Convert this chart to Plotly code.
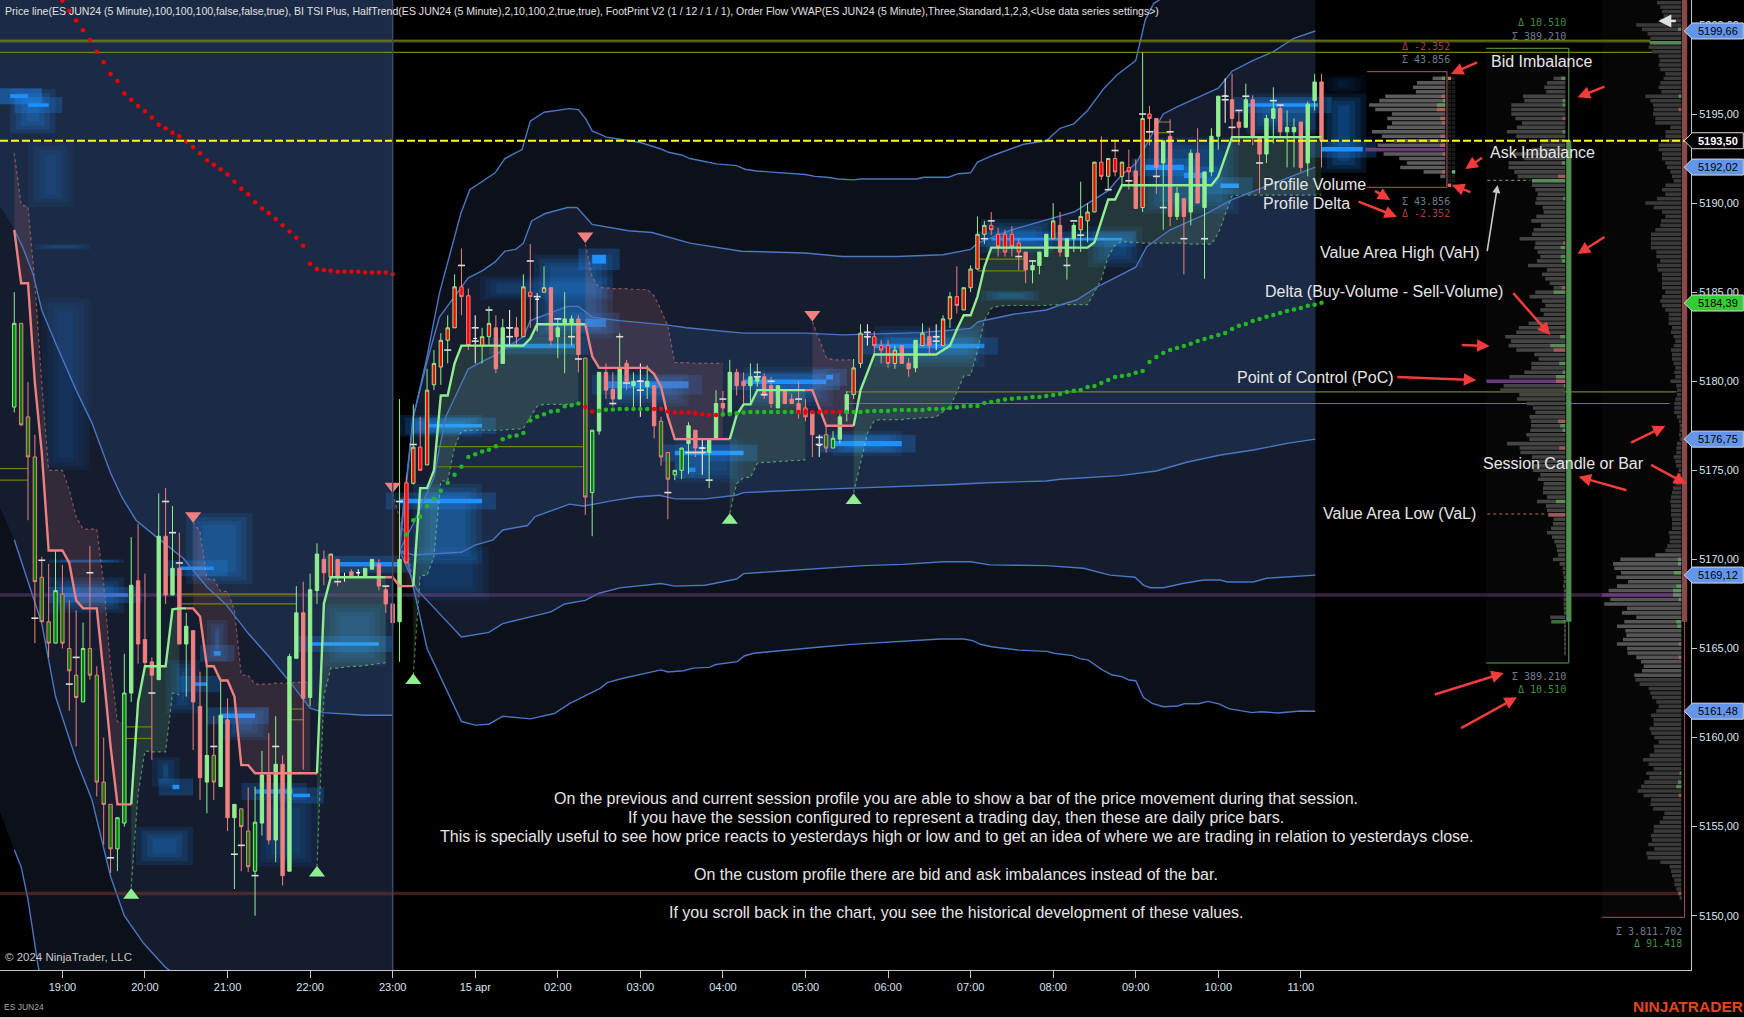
"""ES JUN24 5 minute chart with session volume profiles, rebuilt in plotly."""
import plotly.graph_objects as go

# ---------------------------------------------------------------------------
# Data (bar number 0 = 19:00, prices in index points)
# ---------------------------------------------------------------------------
first_bar = -7
bar_kind = ("qgggggqggg" "qggggqqGRR" "RGRGRGRRGg" "GRGggqGRGR" "GGRGGRrRWR"
            "WGGRRRGprp" "rrrrrppWrr" "RGWRrpWrRG" "GGRgqGRRGR" "GWGRggqqGR"
            "WGGRGRRGGR" "RGRRRpRWgq" "GGrrWppprR" "RGrRWrrprr" "rrpppppRGG"
            "GrRGGrrrpr" "prpRrpRGRG" "RGRGGGWRRG" "RRGGRGGRGG" "R")
bar_top = [5183.25,5183.25,5178,5175.75,5169,5166.5,5168.25,5168.05,5165,5163.5,
           5165,5165,5163.5,5157.5,5156.25,5155.5,5162.5,5168.55,5168.8,5165.5,
           5164.25,5171.3,5171.3,5169.5,5169.5,5166.25,5166,5161.75,5159,5159,
           5161.25,5161,5156.25,5156,5154.75,5155.25,5157.9,5157.9,5158.5,5158.5,
           5164.55,5167,5167,5168.3,5170.3,5170,5170.3,5170,5169,5169.3,
           5169.25,5169.5,5170,5169.75,5168.3,5167.5,5170,5174.3,5176.3,5176.3,
           5179.5,5181,5182.3,5183,5185.3,5185.3,5184.8,5182.4,5182.5,5183.25,
           5183,5183,5183,5183,5185.3,5185,5184.6,5185.25,5185.25,5183,
           5183.5,5183.5,5183.5,5181.3,5177.25,5180.5,5180.5,5179.55,5180.7,5181,
           5180,5180,5180,5179.75,5177.75,5176,5175,5176.25,5177.5,5177.25,
           5176.25,5176.75,5178.75,5178.75,5180.5,5180.5,5180,5180.25,5180.25,5180.25,
           5179.75,5179.75,5179.5,5179,5178.75,5178.5,5178.25,5176.4,5177,5176.8,
           5178,5179.25,5180.75,5182.7,5182.5,5182.5,5182,5182,5181.75,5182,
           5181,5182.3,5182.7,5182.5,5182.5,5183.5,5184.75,5184.75,5185.25,5186.3,
           5188.25,5188.75,5188.75,5188.25,5188.25,5188.25,5187.75,5187.25,5186.5,5187.25,
           5188.25,5189,5188.75,5188,5188.75,5189.25,5189.5,5192.3,5192.3,5192.5,
           5192.5,5192.3,5192,5191.8,5194.75,5195,5194.75,5193.5,5193.75,5190.55,
           5190.25,5192.8,5192.8,5191.75,5193.75,5196,5196,5195.8,5194.55,5195.8,
           5195.8,5193.7,5194.75,5195.3,5195.3,5194.25,5194.25,5194.55,5195.55,5196.8,
           5196.8]
bar_bot = [5178.55,5177.55,5175.75,5168.75,5166.5,5165.3,5165.3,5165.3,5163.75,5162.25,
           5162,5163.5,5157.5,5156.25,5153.75,5153.75,5155.2,5162.5,5165.25,5164.2,
           5163.5,5163.25,5168,5168,5165.25,5165.25,5162,5157.75,5157.5,5157.5,
           5157.25,5155.5,5155.5,5155,5152.75,5152.5,5155.2,5154.25,5154.25,5152.25,
           5152.5,5164.45,5162.2,5162.25,5168.25,5169.25,5169,5169,5169,5169,
           5169.25,5169,5169.45,5168.5,5167.5,5166.45,5166.5,5169.8,5174.27,5175,
           5175.3,5179.8,5180.8,5182.3,5183,5184.75,5182,5182.4,5182,5182.5,
           5180.7,5181,5183,5182.5,5182.5,5184.75,5184.6,5185,5182.3,5182.5,
           5183.2,5183.2,5181.5,5173.5,5173.75,5177.2,5179.5,5179,5179,5180,
           5179.75,5180,5179.7,5177.5,5175.75,5174.5,5174.75,5175,5176.5,5176.25,
           5176.25,5176,5176.75,5178.5,5178.2,5179.75,5179.75,5179.75,5180,5179.2,
           5178.75,5178.5,5178.75,5178.75,5178.2,5178,5177,5176.4,5176.25,5176.25,
           5176.75,5178.2,5179.25,5181,5182.5,5182,5181.75,5181,5181,5181,
           5180.7,5180.75,5182,5182,5182.5,5182,5183.5,5184.25,5184,5185.25,
           5186.3,5188.25,5188.5,5187.55,5187.25,5187.55,5187.25,5186.25,5186.25,5186.5,
           5187,5188,5187.25,5187,5188,5188.5,5189,5189.5,5191.5,5191.5,
           5191.75,5191.5,5191.75,5189.7,5189.75,5194.75,5192,5192.25,5189.25,5189.25,
           5189.25,5189.5,5190,5189.75,5191.75,5193.75,5196,5194.75,5194.25,5194.25,
           5193.75,5192.75,5192.75,5194.75,5194,5194,5194,5192,5192.25,5195.75,
           5193.5]
bar_high = [5185,5183.25,5179.95,5177,5170.15,5169.75,5170.5,5169.7,5167.7,5167.15,
            5166.45,5170.75,5164,5160,5156.25,5155.5,5164.7,5171.25,5172,5169.2,
            5164.5,5173.7,5174,5173,5171.5,5167,5166,5163.7,5164,5161.2,
            5163.25,5162.2,5156.25,5156,5157.2,5157.25,5159.25,5160.25,5161.2,5159,
            5164.7,5168.5,5168.75,5169.2,5170.9,5170.5,5170.3,5170,5169.25,5169.45,
            5169.45,5169.5,5170,5170,5168.5,5167.5,5179,5174.7,5178.7,5178,
            5180.7,5181.75,5182.7,5183.7,5186,5187.45,5185.2,5183.7,5183,5184.2,
            5183.7,5183.5,5184,5183.6,5186,5187.7,5184.95,5186.45,5185.25,5183.5,
            5185,5183.7,5183.7,5181.3,5177.25,5180.5,5181,5180.5,5182.7,5181.2,
            5180.5,5181,5180.9,5179.75,5178,5176,5175,5176.25,5177.7,5177.25,
            5176.75,5176.75,5179.5,5179.45,5181.2,5180.7,5180.5,5181,5181,5180.45,
            5180.25,5179.75,5179.5,5179.3,5180,5179,5178.25,5177,5177.45,5177.2,
            5178.2,5179.45,5181.25,5183.2,5183.2,5182.8,5182.3,5182.3,5182,5182,
            5181.3,5182.3,5183.25,5183,5183.2,5183.7,5185,5186.45,5185.25,5186.5,
            5189.25,5189,5189.5,5188.6,5188.5,5188.7,5188,5187.25,5186.8,5187.25,
            5188.25,5190,5189.5,5188,5188.9,5191.2,5190,5192.3,5193.75,5192.5,
            5193.55,5192.3,5193,5192.45,5198.45,5195.45,5194.75,5193.5,5194.7,5190.9,
            5190.25,5193,5194.2,5191.75,5194.2,5196,5197,5197.25,5195.2,5196.7,
            5196.05,5193.7,5194.95,5196.5,5195.5,5195.2,5194.75,5194.55,5195.7,5197.25,
            5197.25]
bar_low = [5178.25,5177.5,5172.2,5165.3,5166.5,5164.5,5165.3,5165,5161.5,5159.5,
           5162,5163.25,5156.7,5154,5152.4,5152.5,5155,5162,5164.15,5164,
           5158.75,5163.25,5167.5,5168,5165.25,5162.3,5159.3,5156.5,5155.75,5156.5,
           5157.25,5154.75,5151.5,5152.5,5152.45,5150,5154.5,5154,5153,5151.7,
           5152.5,5164.45,5158.2,5161.75,5167.5,5168.55,5169,5168.5,5168.75,5169,
           5169,5169,5169.45,5168.25,5167,5166.2,5164.25,5169.8,5174.2,5175,
           5175.3,5179.5,5179.8,5181,5183,5183.7,5181.75,5181,5181,5182,
           5180.45,5181,5182,5182,5182.5,5183,5182.8,5185,5182,5181.3,
           5180.45,5182,5180.5,5172.5,5171.3,5177,5179,5178.6,5179,5179.5,
           5178.5,5178,5179,5176.8,5175.25,5172.25,5174.45,5174.5,5174.8,5175.75,
           5174.75,5174,5176.75,5178,5178.2,5179.2,5178.75,5178.75,5179.7,5179,
           5178.5,5178.5,5178.75,5178.75,5177.9,5177.75,5175.75,5175.75,5176,5176.25,
           5176.5,5177.75,5179,5180.75,5182,5181.5,5181,5180.75,5180.7,5181,
           5180.25,5180.5,5182,5181.5,5181.75,5182,5183,5183.8,5184,5185,
           5186.25,5187.7,5188.2,5187,5187,5187,5186.25,5185.5,5185.5,5186,
           5187,5188,5187,5185.7,5187.25,5187.25,5187.8,5189.5,5191.3,5190.75,
           5191.5,5191,5190.75,5189.7,5189.5,5193.25,5190.5,5188.5,5188.7,5189.05,
           5186,5188.75,5190,5185.75,5191.5,5193,5194.5,5193.75,5193.25,5194.25,
           5193.25,5190.55,5192.25,5193.35,5193.75,5192,5192,5191.75,5191.5,5195.2,
           5192]

# small white footprint marks next to the bars
mark_bar = [-3,-4,4,2,1,7,15,16,17,13,22,25,26,28,31,40,47,49,51,58,56,60,60,62,65,65,68,69,72,74,75,80,81,82,
            84,84,88,91,92,93,93,94,96,101,101,102,103,107,110,110,117,117,127,127,134,135,139,141,146,147,
            148,152,153,155,157,159,158,160,161,163,166,169,169,170,171,172,174,176,177]
mark_price = [5169.95,5166.7,5169.25,5164.5,5163,5153.25,5173.25,5171.5,5169.8,5162.5,5159.5,5153.45,5153.95,
              5152.25,5159.5,5168.75,5168.5,5173.25,5176.45,5186.5,5181.75,5183,5182.25,5184,5183,5182.5,
              5186.75,5184.75,5183.5,5182.5,5181.25,5178.75,5182.5,5179.9,5180,5179.5,5173.75,5176,5176,
              5176.25,5176,5174.45,5179,5180.5,5180.25,5179.25,5180,5179,5176.85,5176.45,5182.75,5182.5,
              5182.5,5182.25,5188,5189,5187,5186.75,5186.5,5189,5188.2,5190.75,5192.95,5191.25,5195,5191.5,
              5194,5189.75,5194,5188,5188,5196,5195.8,5194.25,5195.2,5196,5192.25,5195.75,5195.5]

# HalfTrend line, one value per bar, and the bars where it changes colour
halftrend = [5188.5,5185.5,5185.5,5179.9,5176,5170.5,5170.5,5170.5,5169.8,5167.7,
             5167.25,5167.25,5167.25,5163.5,5159.5,5156.25,5156.25,5156.25,5162,5164,
             5164,5164,5164,5167.2,5167.25,5167.25,5167.25,5166.8,5164,5164,
             5163.2,5163.2,5162.3,5158.45,5158.45,5158,5158,5158,5158,5158,
             5158,5158,5158,5158,5158,5167.5,5169,5169,5169,5169,
             5169,5169,5169,5169,5169,5169,5168.5,5168.5,5168.5,5174,
             5174,5175,5179.2,5179.2,5181,5182,5182,5182,5182,5182,
             5182,5182,5182,5182,5182,5182.4,5183.2,5183.2,5183.2,5183.2,
             5183.2,5183.2,5183.2,5183.2,5181.4,5180.75,5180.75,5180.75,5180.75,5180.75,
             5180.75,5180.75,5180.75,5180.4,5179.7,5178,5176.75,5176.75,5176.75,5176.75,
             5176.75,5176.75,5176.75,5176.75,5176.75,5178.1,5178.7,5178.7,5179.5,5179.5,
             5179.5,5179.5,5179.5,5179.5,5179.5,5179.5,5179.5,5178.5,5177.5,5177.5,
             5177.5,5177.5,5177.5,5179.5,5180.5,5181.5,5181.5,5181.5,5181.5,5181.5,
             5181.5,5181.5,5181.5,5181.5,5181.5,5181.75,5182,5182.9,5183.7,5183.7,
             5184.75,5186.4,5187.5,5187.5,5187.5,5187.5,5187.5,5187.5,5187.5,5187.5,
             5187.5,5187.5,5187.5,5187.5,5187.5,5187.5,5187.5,5187.8,5189,5190.2,
             5190.2,5191,5191,5191,5191,5191,5191,5191,5191,5191,
             5191,5191,5191,5191,5191,5191.5,5192.6,5193.7,5193.7,5193.7,
             5193.7,5193.7,5193.7,5193.7,5193.7,5193.7,5193.7,5193.7,5193.7,5193.7,
             5193.7]
halftrend_flips = [-7, 10, 18, 37, 47, 51, 76, 97, 108, 115, 183]

# the dotted far side of each HalfTrend ribbon
ribbon_dn_1 = [5192.8,5189.9,5189.8,5185.5,5179.9,5175,5175,5175,5173.9,5172.4,5171.7,5171.7,5171.7,5168.65,5164,5160.9,5160.8]
ribbon_up_1 = [5151.6,5156.85,5159.25,5159.2,5159.2,5159.2,5162.5,5162.4]
ribbon_dn_2 = [5172.1,5171.55,5168.9,5168.9,5168.2,5168.2,5167.15,5163.5,5163.5,5163,5163,5163,5163.05,5163.05,5163.05,5163.1,5163.1,5163.1]
ribbon_up_2 = [5152.75,5162.3,5163.9,5163.9,5163.95,5164,5164,5164.05,5164.1,5164.15,5164.2]
ribbon_dn_3 = [5173.7,5172.3,5171,5168.5]
ribbon_up_3 = [5163.5,5169.1,5169.1,5170.15,5174.4,5174.4,5176.3,5177.2,5177.25,5177.25,5177.25,5177.25,5177.25,5177.25,
               5177.3,5177.3,5177.35,5178,5178.6,5178.7,5178.7,5178.7,5178.7,5178.7,5178.7]
ribbon_dn_4 = [5187.7,5185.85,5185.25,5185.25,5185.2,5185.2,5185.2,5185.15,5185.15,5185.15,5184.8,5184,5183.1,5181.05,
               5181.05,5181.05,5181,5181,5181,5181,5181]
ribbon_up_4 = [5172.6,5174.25,5174.6,5174.6,5175.4,5175.45,5175.45,5175.5,5175.5,5175.55,5175.55,5175.6]
ribbon_dn_5 = [5183.35,5182.3,5181.35,5181.2,5181.2,5181.2,5181.2]
ribbon_up_5 = [5173.75,5175.4,5177.05,5177.8,5177.85,5177.85,5177.85,5177.85,5177.9,5177.9,5177.95,5177.95,5178,5178.3,
               5178.57,5179.4,5180.29,5180.35,5181.7,5183.4,5184.1,5184.2,5184.25,5184.25,5184.25,5184.25,5184.25,
               5184.25,5184.25,5184.3,5184.3,5184.3,5184.3,5184.3,5184.3,5185,5185.7,5187,5187.65,5187.85,5187.8,
               5187.8,5187.75,5187.75,5187.75,5187.75,5187.75,5187.75,5187.75,5187.7,5187.7,5187.7,5187.7,5188.3,
               5189.4,5190.4,5190.45,5190.45,5190.45,5190.45,5190.45,5190.45,5190.45,5190.45,5190.45,5190.45,5190.45,
               5190.45,5190.45]
ribbons = [(-7, ribbon_dn_1, "dn"), (10, ribbon_up_1, "up"), (19, ribbon_dn_2, "dn"),
           (37, ribbon_up_2, "up"), (48, ribbon_dn_3, "dn"), (51, ribbon_up_3, "up"),
           (76, ribbon_dn_4, "dn"), (97, ribbon_up_4, "up"), (109, ribbon_dn_5, "dn"),
           (115, ribbon_up_5, "up")]

sell_signal_bar = [19, 48, 76, 109]
sell_signal_price = [5172.45, 5174.1, 5188.15, 5183.75]
buy_signal_bar = [10, 37, 51, 97, 115]
buy_signal_price = [5151.15, 5152.4, 5163.2, 5172.2, 5173.3]

# previous session VWAP dots (all red) and current session VWAP dots
prior_dots = [5201.35,5200.8,5200.25,5199.7,5199.15,5198.5,5197.9,5197.25,5196.85,5196.15,
              5195.8,5195.45,5195.15,5194.8,5194.4,5194.2,5193.95,5193.75,5193.45,5193.15,
              5192.8,5192.4,5192.15,5191.9,5191.6,5191.2,5190.8,5190.5,5190.05,5189.7,
              5189.45,5189.1,5188.75,5188.4,5188.05,5187.6,5186.6,5186.3,5186.25,5186.2,
              5186.15,5186.15,5186.15,5186.15,5186.1,5186.1,5186.1,5186.1,5186]
vwap_first_bar = 50
vwap_dots = [5171.4,5172.2,5172.4,5173,5173.4,5173.85,5174.3,5174.75,5175.2,5175.75,
             5175.9,5176.05,5176.15,5176.35,5176.75,5176.9,5176.95,5177.1,5177.8,5178,
             5178.15,5178.3,5178.35,5178.6,5178.65,5178.75,5178.55,5178.3,5178.35,5178.4,
             5178.42,5178.44,5178.44,5178.44,5178.44,5178.44,5178.44,5178.44,5178.3,5178.25,
             5178.25,5178.25,5178.2,5178.15,5178.1,5178.1,5178.15,5178.15,5178.2,5178.25,
             5178.27,5178.27,5178.27,5178.27,5178.27,5178.27,5178.27,5178.27,5178.27,5178.27,
             5178.27,5178.27,5178.27,5178.28,5178.28,5178.27,5178.27,5178.31,5178.33,5178.33,
             5178.33,5178.39,5178.39,5178.39,5178.39,5178.39,5178.44,5178.44,5178.44,5178.5,
             5178.54,5178.59,5178.61,5178.61,5178.78,5178.83,5178.91,5178.97,5179.02,5179.06,
             5179.06,5179.12,5179.12,5179.17,5179.23,5179.28,5179.4,5179.47,5179.51,5179.68,
             5179.73,5179.9,5180.07,5180.24,5180.29,5180.35,5180.48,5180.57,5181.08,5181.36,
             5181.59,5181.75,5181.87,5181.98,5182.11,5182.26,5182.37,5182.48,5182.6,5182.71,
             5182.93,5183.12,5183.21,5183.38,5183.49,5183.62,5183.72,5183.83,5183.94,5184.02,
             5184.11,5184.24,5184.3,5184.41]
vwap_red_bars = [76, 77, 86, 87, 88, 89, 90, 91, 92, 93, 94, 95, 107, 108, 109, 110, 111, 112, 113]

# current session VWAP bands
upper3_x = [49,51,52.9,54.8,57.9,59.2,62.9,64.3,66.8,68,70,73.7,75,76.1,77,79.1,80.8,84,86.9,88.1,90,91.2,93.2,95.1,98,
            99.2,100.9,104.8,108,109.4,111.1,112.8,115,116,124.2,125.2,128.8,130.2,132,133,135.4,139.7,143,145,147,
            149,151.4,153.3,156,157.4,158.6,170,182.1]
upper3_p = [5171,5178,5181.2,5184.95,5189.4,5190.75,5191.7,5192.5,5193,5194.6,5195.1,5195.3,5195.25,5194.7,5194.05,
            5193.7,5193.6,5193.4,5193.05,5192.85,5192.7,5192.5,5192.35,5192.2,5192.1,5191.9,5191.8,5191.7,5191.6,
            5191.5,5191.45,5191.35,5191.3,5191.35,5191.35,5191.45,5191.45,5191.65,5191.7,5192.3,5192.7,5193.3,5193.5,
            5194.2,5194.45,5195.2,5196.45,5197.2,5198,5200.3,5201.2,5204,5207]
upper2_x = [49,51,53.2,54.8,59,61,62.9,64.3,65.9,67,68.2,70.1,73.4,74.8,77,82.3,85.7,87.9,91.2,98.7,107.9,113.4,121.2,
            128,132,133,138,147,152,154,156,158,160,162,168,170,173,176,179,182.1]
upper2_p = [5170.5,5178,5181.4,5183.6,5185.8,5186.2,5186.7,5187.3,5187.4,5187.75,5189,5189.4,5189.75,5189.75,5188.8,
            5188.45,5188.35,5188.1,5187.75,5187.3,5187.2,5187,5187,5187.1,5187.4,5187.75,5188.5,5189.5,5190.7,5191.6,
            5192.2,5193.6,5195,5195.4,5196.45,5197.4,5198,5198.5,5199.25,5199.66]
upper1_x = [49,51,54,55.7,59,63,67,68,73.4,75,77,81,88,90.7,99,108,113.4,121,124.7,129.5,132,133.1,138.2,143,145,147.4,
            150.4,156,157.6,161,166,170,175.4,182.1]
upper1_p = [5170.5,5172,5174.6,5178,5180.7,5181.5,5182.5,5183.4,5184.2,5184.2,5183.6,5183.4,5183.15,5183,5182.7,5182.7,
            5182.6,5182.7,5182.73,5182.88,5182.97,5183.34,5183.76,5184,5184.28,5184.56,5185.3,5186.4,5187.55,5188.5,
            5189.35,5190.2,5191,5192.02]
lower1_x = [49,51,58,60,62.6,64,67.6,68.7,73.7,75.7,77.3,80,83.4,86.8,89,93.4,97.9,99,108,117.4,123.7,129.5,134.4,139.2,
            143,145,148.9,153.7,159,163.4,168.3,173.1,178,182.1]
lower1_p = [5170.5,5170.25,5170.4,5170.8,5171.1,5171.65,5171.9,5172.4,5173.1,5173,5173.1,5173.3,5173.5,5173.6,5173.4,
            5173.4,5173.6,5173.75,5173.9,5174.03,5174.08,5174.2,5174.3,5174.34,5174.4,5174.5,5174.6,5174.7,5174.96,
            5175.45,5175.86,5176.14,5176.51,5176.75]
lower2_x = [49,51.5,53,58,62,64,71,73,76,78,81,87,89,93.4,98,99,104.6,110,116.4,122.2,128,132,134.8,143,148.4,152.3,
            155.9,157.1,158.1,160,163,165.9,168.3,169.3,173.1,175,178,182.1]
lower2_p = [5170.5,5168.3,5167.7,5165.65,5165.9,5166.4,5167.05,5167.5,5167.7,5168.1,5168.4,5168.65,5168.5,5168.55,
            5168.9,5169.2,5169.35,5169.48,5169.65,5169.72,5169.87,5169.87,5169.69,5169.65,5169.5,5169.12,5169,
            5168.56,5168.41,5168.41,5168.66,5168.84,5168.84,5168.73,5168.73,5168.94,5169.03,5169.12]
lower3_x = [49,50,53,58,60,62,64,68,71.5,73.7,78.15,79.2,81.2,87,88,90.3,91.7,94,95,98.1,99.1,100.5,103.9,107.2,110.6,
            114.7,118.8,124.2,127.6,131,132.3,133.3,135,139,143.1,144.1,146.8,147.9,149.1,151.2,152.6,154,155,156,
            157.1,158.4,160,162.1,163.1,165.1,166.5,168.2,169.5,172.9,174.2,176.6,180,182.1]
lower3_p = [5170.5,5170.2,5165,5160.9,5160.7,5160.75,5161.2,5161.05,5161.35,5161.9,5162.76,5163.08,5163.3,5163.8,
            5163.68,5163.75,5163.9,5163.94,5164.1,5164.26,5164.58,5164.73,5164.86,5164.99,5165.1,5165.23,5165.33,
            5165.44,5165.53,5165.53,5165.44,5165.25,5165.1,5164.91,5164.84,5164.73,5164.6,5164.43,5164.35,5163.79,
            5163.51,5163.42,5163.23,5163.19,5162.26,5161.92,5161.73,5161.77,5161.9,5161.9,5162.03,5161.88,5161.62,
            5161.4,5161.45,5161.38,5161.49,5161.48]

# previous session bands (only the lower ones are on screen)
prev_a_x = [-9.1,-7,-5.8,-4.3,-3,-1,2,4.3,7,8.7,10.7,13.7,17.6,21,23.7,27,30,33,36,38,44,48]
prev_a_p = [5189.8,5188.5,5187.55,5186.05,5184,5182.15,5179.5,5177.65,5174.85,5173.45,5172.2,5171.25,5170.05,
            5168.45,5167.5,5165.85,5164.55,5163.15,5161.65,5161.4,5161.25,5161.25]
prev_b_x = [-9.1,-7,-3,-1,2,4.3,7,9,11.8,15,17]
prev_b_p = [5172.85,5171.1,5166.4,5162.3,5158.75,5156.5,5152.2,5150,5148.45,5147.1,5146.5]
prev_c_x = [-9.1,-7,-6,-5,-3.5,-3]
prev_c_p = [5155.85,5153.7,5152.75,5150.9,5147.1,5146.5]

# volume heat blocks behind the bars: first bar, last bar, price range, intensity
heat_x0 = [-5,-4,-3,-7.6,-2,0,18,21,15,23,13,10.7,28,38,50,51,60.7,68.5,79,89,99,112,118,133.5,133.5,149,157,172,183,183,
           -2,-7.6,-7.6,-5,0,17,19,22,23,16,28,33.5,36.2,40,49,53,49,77,64,76,79,89,91,99,111,112,118,135,157.4,163,168.3,172,183]
heat_x1 = [1.5,4,4,-1,9,9.5,27.6,24,20,30,17,19,37,47,62,61,80,80,91,99,112,122,134,144,142,157,171,183,189.5,189.5,
           9,-5,-5,-2,9.5,22,21,23,28,17,33.5,36,46,49,61,61,61,79,74.5,79,91,99,92,111,112,122,134,154,163,166,171,182.5,189]
heat_p0 = [5189.8,5187.4,5175,5193.9,5167,5167.9,5168.6,5164.3,5161.35,5159.85,5157.25,5152.85,5152.75,5164,5167.7,5169.75,
           5184.55,5182.4,5178.6,5174.3,5178.6,5175.8,5180.8,5187.2,5184.5,5186.4,5189.4,5193.9,5191.7,5196.15,
           5169.8,5195.9,5195.9,5195.4,5167.9,5169.4,5162.9,5164.6,5161.1,5157.1,5156.85,5156.65,5165.15,5169.6,5173.15,5177.4,
           5176.9,5186.6,5181.85,5183.05,5179.6,5175.85,5174.9,5179.85,5180.1,5176.35,5181.85,5187.9,5191.85,5191.4,5190.85,5195.4,5192.9]
heat_p1 = [5193.4,5187.7,5184.65,5196.4,5169,5168.1,5172.6,5166.6,5164.35,5161.7,5158.9,5155,5156.7,5167.5,5170.7,5174.25,
           5185.9,5187.1,5180.4,5176.9,5180.8,5177.2,5183.1,5189.1,5185.1,5188.7,5193.7,5196.15,5196.15,5197.2,
           5170,5196.1,5196.1,5195.6,5168.1,5169.6,5163.1,5164.85,5161.35,5157.35,5157.1,5156.85,5165.35,5169.85,5173.4,5177.6,
           5178.1,5187.1,5182.1,5183.5,5180,5176.1,5175.15,5180.1,5180.35,5176.65,5182.1,5188.05,5192.15,5191.7,5191.1,5195.6,5193.15]
heat_level = [.18,.2,.15,.35,.3,.3,.3,.3,.25,.3,.25,.3,.2,.22,.18,.3,.2,.3,.25,.2,.25,.25,.25,.3,.25,.25,.25,.3,.35,.12,
              .35,1,1,1,1,.9,.9,.9,1,1,.8,1,1,.9,1,1,.4,1,.8,.7,.75,1,.9,1,1,1,.85,1,1,1,1,1,1]

# current session profile (rows from 5197.00 down, 0.25 apart)
session_top = 5197.0
session_vol = [35,55,63,57,127,123,162,162,162,150,130,145,175,147,75,75,100,155,125,170,
               170,153,143,100,100,90,83,87,90,68,65,87,102,73,95,100,137,90,93,83,
               75,85,112,55,70,60,47,35,90,107,70,60,75,65,87,110,140,147,180,
               163,170,147,93,80,102,102,123,168,237,185,195,138,145,115,97,90,107,103,103,
               105,117,108,175,137,135,100,83,95,97,75,82,65,67,67,55,85,58,55,52,
               35,37,43,55,40,33,27,25,22,37,17,8,7,5,5,7,5,5,5,5,
               5,3,45,3,3,3,3,3,3,3,3]
session_delta_rows = [0,5,6,9,12,19,22,23,27,37,38,40,41,47,48,58,60,61,64,66,67,68,69,77,78,79,83,95,98,122]
session_delta_vals = [12,8,8,-8,8,10,-22,100,6,-6,14,14,10,-10,35,15,45,-35,18,8,28,-28,5,-22,15,8,-18,28,-50,42]
session_poc_row = 68

# previous session profile (rows from 5201.25 down)
prev_top = 5201.25
prev_left = [770,780,785,790,780,708,725,742,750,750,745,755,775,778,775,780,795,790,780,775,
             783,735,750,758,760,758,765,765,810,795,795,800,775,775,785,785,795,800,810,815,
             820,795,785,795,770,735,760,785,795,782,780,765,752,752,752,752,768,768,780,770,
             772,785,785,785,785,795,785,780,785,795,805,805,805,815,812,820,
             825,820,812,815,815,820,825,822,825,810,828,830,830,825,822,822,822,830,836,838,
             838,836,838,830,828,828,820,825,828,835,835,835,825,818,815,812,810,812,812,812,
             815,815,815,805,808,808,800,795,765,660,638,642,662,648,683,650,625,605,630,612,
             680,665,708,672,650,675,678,668,650,680,682,708,722,730,725,702,705,
             718,745,750,755,768,775,768,752,760,760,748,753,762,775,760,762,748,728,745,760,
             738,747,732,722,712,730,752,750,758,792,788,778,760,760,752,755,744,762,738,742,
             780,808,812,815,822,822,828,832,838]
prev_vol = [843 - v for v in prev_left]
prev_delta_rows = [6,9,21,24,125,126,128,131,132,133,134,139,140,144,147,173,175,176,178,200]
prev_delta_vals = [10,95,8,-8,10,10,22,15,25,25,8,15,12,-8,-8,5,10,15,-8,-8]
prev_poc_row = 133

# custom range profile (rows from 5197.00 down)
custom_top = 5197.0
custom_vol = [38,85,97,88,180,198,228,210,160,174,160,175,220,190,155,203,239,185,138,115,135,65,15]
custom_delta_rows = [0,4,5,6,7,9,10,13,15,17,21]
custom_delta_vals = [10,-12,8,25,-25,-15,-10,-15,-15,-8,-10]
custom_poc_row = 16
imbalance_rows = list(range(25))
imbalance_bid_rows = [0, 24]
imbalance_ask_rows = [21]

# session candles: high, body top, body bottom, low
session_bar = (5198.7, 5193.5, 5166.5, 5164.2)
prev_bar = (5201.5, 5201.5, 5166.5, 5149.9)

# horizontal levels
level_p = [5199.1, 5198.46, 5179.4, 5178.75]
level_x0 = [-9.1, -9.1, 114, 114]
level_x1 = [230.8, 231.5, 234.6, 233.6]
short_p = [5176.33,5175.2,5186.85,5186.2,5160.6,5159.95,5168.05,5167.5,5161.6,5161,5175.1,5174.45,5194.55,5193.95]
short_x0 = [54.5,54.5,133,133,9.3,9.3,17.3,17.3,33,33,-9.1,-9.1,159,159]
short_x1 = [75.7,75.7,140,140,13,13,34,34,35,35,-5,-5,161,161]
poc_purple_p = 5168.0
poc_brown_p = 5151.25
last_price = 5193.5

tick_prices = [5150,5155,5160,5165,5170,5175,5180,5185,5190,5195,5200]
time_bars = [0,12,24,36,48,60,72,84,96,108,120,132,144,156,168,180]
time_labels = ["19:00","20:00","21:00","22:00","23:00","15 apr","02:00","03:00","04:00","05:00",
               "06:00","07:00","08:00","09:00","10:00","11:00"]

# price flags on the axis: price, fill, text colour
flag_prices = [5199.66, 5192.02, 5184.39, 5176.75, 5169.12, 5161.48, 5193.50]
flag_fills = ["#6495ED", "#6495ED", "#32CD32", "#6495ED", "#6495ED", "#6495ED", "#000000"]
flag_text = ["#000000", "#000000", "#000000", "#000000", "#000000", "#000000", "#ffffff"]

# ---------------------------------------------------------------------------
# Page geometry
# ---------------------------------------------------------------------------
W, H = 1744, 1017
PLOT_R, PLOT_B = 1690.7, 970.0
BAR_PX = 6.879
X0_PX = 62.4
PX_PER_PT = 17.816
Y_195 = 114.0


def bar_at(px):
    return (px - X0_PX) / BAR_PX


def price_at(py):
    return 5195 - (py - Y_195) / PX_PER_PT


def xp(px):
    return px / PLOT_R


def yp(py):
    return 1 - py / PLOT_B


X_RANGE = [bar_at(0), bar_at(PLOT_R)]
Y_RANGE = [price_at(PLOT_B), price_at(0)]
VOL_UNIT = 1 / (3 * BAR_PX)  # one profile unit is a third of a pixel

FONT = "Liberation Sans"
MONO = "DejaVu Sans Mono"
LG, SALMON = "#90EE90", "#F08080"
BAND = "#4a76c4"

fig = go.Figure()
shapes, notes = [], []


def note(px, py, text, size=16, color="#e6e6e6", anchor="left", family=FONT, bold=False):
    notes.append(dict(xref="paper", yref="paper", x=xp(px), y=yp(py), text=f"<b>{text}</b>" if bold else text,
                      showarrow=False, xanchor=anchor, yanchor="middle", borderpad=0, borderwidth=0,
                      font=dict(family=family, size=size, color=color)))


def arrow(tail, head, color="#f23c3c", width=2.5):
    notes.append(dict(xref="paper", yref="paper", x=xp(head[0]), y=yp(head[1]), text="",
                      ax=tail[0] - head[0], ay=tail[1] - head[1], showarrow=True,
                      arrowhead=2, arrowsize=1, arrowwidth=width, arrowcolor=color))


def pline(x0, y0, x1, y1, color, width=1, dash="solid", layer="above"):
    shapes.append(dict(type="line", xref="paper", yref="paper", x0=xp(x0), y0=yp(y0), x1=xp(x1), y1=yp(y1),
                       line=dict(color=color, width=width, dash=dash), layer=layer))


def polygon(xs, ys, color, axes="1"):
    fig.add_trace(go.Scatter(x=xs, y=ys, mode="lines", fill="toself", fillcolor=color,
                             line=dict(width=0), hoverinfo="skip",
                             xaxis="x" if axes == "1" else "x" + axes,
                             yaxis="y" if axes == "1" else "y" + axes))


# ---------------------------------------------------------------------------
# Layer 1: band fills
# ---------------------------------------------------------------------------
TOP = Y_RANGE[1] + 1
BOTTOM = Y_RANGE[0] - 1
polygon(prev_a_x + [48, -9.1], prev_a_p + [TOP, TOP], "#1c2b45")
polygon(prev_a_x + [48, 17] + prev_b_x[::-1], prev_a_p + [BOTTOM, BOTTOM] + prev_b_p[::-1], "#141c2e")
polygon(prev_b_x + [17, -3] + prev_c_x[::-1], prev_b_p + [BOTTOM, BOTTOM] + prev_c_p[::-1], "#0c1019")

polygon(upper3_x + lower3_x[::-1], upper3_p + lower3_p[::-1], "#0c1019")
polygon(upper2_x + lower2_x[::-1], upper2_p + lower2_p[::-1], "#141c2e")
polygon(upper1_x + lower1_x[::-1], upper1_p + lower1_p[::-1], "#1c2b45")

# ---------------------------------------------------------------------------
# Layer 2: heat blocks, ribbons, band lines, levels
# ---------------------------------------------------------------------------
# bright rows get a faint glow, the broad blocks get soft stepped edges
heat_rects = []
for x0, x1, p0, p1, lv in zip(heat_x0, heat_x1, heat_p0, heat_p1, heat_level):
    if lv >= 0.7:
        heat_rects.append((x0 - 2, x1 + 2, p0 - 0.35, p1 + 0.35, lv * 0.24))
        heat_rects.append((x0, x1, p0, p1, lv))
    else:
        for k in range(4):
            dx = min(k * 0.8, (x1 - x0) * 0.2 * k)
            dp = min(k * 0.22, (p1 - p0) * 0.1 * k)
            heat_rects.append((x0 + dx, x1 - dx, p0 + dp, p1 - dp, lv * 0.4))
heat_rects.sort(key=lambda r: r[4])
fig.add_trace(go.Bar(orientation="h",
                     y=[(r[2] + r[3]) / 2 for r in heat_rects],
                     x=[r[1] - r[0] for r in heat_rects],
                     base=[r[0] for r in heat_rects],
                     width=[r[3] - r[2] for r in heat_rects],
                     marker=dict(color=[r[4] for r in heat_rects], cmin=0, cmax=1, line=dict(width=0),
                                 colorscale=[[0, "rgba(30,144,255,0)"], [1, "rgba(30,144,255,1)"]]),
                     xaxis="x2", yaxis="y2", hoverinfo="skip"))

for start, vals, side in ribbons:
    xs = list(range(start, start + len(vals)))
    line_vals = [halftrend[i - first_bar] for i in xs]
    fill = "rgba(144,238,144,0.13)" if side == "up" else "rgba(240,128,128,0.14)"
    polygon(xs + xs[::-1], vals + line_vals[::-1], fill, axes="2")
    fig.add_trace(go.Scatter(x=xs, y=vals, mode="lines", hoverinfo="skip", xaxis="x2", yaxis="y2",
                             line=dict(width=1.2, dash="dot",
                                       color="rgba(144,238,144,0.5)" if side == "up" else "rgba(240,128,128,0.5)")))

for xs, ps in [(upper3_x, upper3_p), (upper2_x, upper2_p), (upper1_x, upper1_p),
               (lower1_x, lower1_p), (lower2_x, lower2_p), (lower3_x, lower3_p),
               (prev_a_x[1:], prev_a_p[1:]), (prev_b_x[1:], prev_b_p[1:]), (prev_c_x[1:], prev_c_p[1:])]:
    fig.add_trace(go.Scatter(x=xs, y=ps, mode="lines", line=dict(color=BAND, width=1.4),
                             hoverinfo="skip", xaxis="x2", yaxis="y2"))

# purple and brown session lines, olive levels
for p, color in [(poc_purple_p, "rgba(125,70,145,0.45)"), (poc_brown_p, "rgba(115,55,55,0.55)")]:
    fig.add_trace(go.Scatter(x=[X_RANGE[0], bar_at(1681)], y=[p, p], mode="lines",
                             line=dict(color=color, width=3.5), hoverinfo="skip", xaxis="x2", yaxis="y2"))
fig.add_trace(go.Scatter(x=[level_x0[0], level_x1[0]], y=[level_p[0], level_p[0]], mode="lines",
                         line=dict(color="rgba(120,150,70,0.28)", width=4), hoverinfo="skip", xaxis="x2", yaxis="y2"))
for x0, x1, p in list(zip(level_x0, level_x1, level_p)) + list(zip(short_x0, short_x1, short_p)):
    fig.add_trace(go.Scatter(x=[x0, x1], y=[p, p], mode="lines", line=dict(color="#77801a", width=1.2),
                             hoverinfo="skip", xaxis="x2", yaxis="y2"))


# ---------------------------------------------------------------------------
# Layer 3: profiles, candles, lines, dots
# ---------------------------------------------------------------------------
def add_profile(top, vols, anchor_px, gray, poc_row, delta_rows, delta_vals, alpha=0.55, light_rows=()):
    anchor = bar_at(anchor_px)
    rows = [top - 0.25 * i for i in range(len(vols))]
    colors = ["#6a3a7a" if i == poc_row else ("#555555" if i in light_rows else gray) for i in range(len(vols))]
    fig.add_trace(go.Bar(orientation="h", y=rows, x=[-v * VOL_UNIT for v in vols], base=anchor, width=0.2,
                         marker=dict(color=colors, line=dict(width=0)), xaxis="x3", yaxis="y3", hoverinfo="skip"))
    d_colors = [f"rgba(110,200,110,{alpha})" if v > 0 else f"rgba(235,110,110,{alpha})" for v in delta_vals]
    fig.add_trace(go.Bar(orientation="h", y=[rows[i] for i in delta_rows], x=[-abs(v) * VOL_UNIT for v in delta_vals],
                         base=anchor, width=0.2, marker=dict(color=d_colors, line=dict(width=0)),
                         xaxis="x3", yaxis="y3", hoverinfo="skip"))


add_profile(prev_top, prev_vol, 1681, "#3a3a3a", prev_poc_row, prev_delta_rows, prev_delta_vals,
            light_rows=range(124, 152))
add_profile(session_top, session_vol, 1565, "#444444", session_poc_row, session_delta_rows, session_delta_vals)
add_profile(custom_top, custom_vol, 1445, "#5c5c5c", custom_poc_row, custom_delta_rows, custom_delta_vals)

# imbalance squares next to the custom profile
imb_rows = [custom_top - 0.25 * i for i in imbalance_rows]
for px, bid in [(1449.3, True), (1453.3, False)]:
    colors = []
    for i in imbalance_rows:
        if bid and i in imbalance_bid_rows:
            colors.append("#d86a6a")
        elif not bid and i in imbalance_ask_rows:
            colors.append("#5fc05f")
        else:
            colors.append("#1c1c1c")
    fig.add_trace(go.Scatter(x=[bar_at(px)] * len(imb_rows), y=imb_rows, mode="markers", hoverinfo="skip",
                             marker=dict(symbol="square", size=3.4, color=colors), xaxis="x3", yaxis="y3"))

# candles, one trace per body/outline combination
kinds = {"G": (LG, LG), "R": (SALMON, SALMON), "r": ("#ff0000", LG), "g": ("#008000", SALMON),
         "q": ("#008000", LG), "p": ("#ff0000", SALMON), "W": ("#ffffff", "#ffffff")}
for kind, (fill, outline) in kinds.items():
    idx = [i for i, k in enumerate(bar_kind) if k == kind]
    up = kind in "GrqW"
    fig.add_trace(go.Candlestick(
        x=[first_bar + i for i in idx],
        open=[bar_bot[i] if up else bar_top[i] for i in idx],
        close=[bar_top[i] if up else bar_bot[i] for i in idx],
        high=[bar_high[i] for i in idx], low=[bar_low[i] for i in idx],
        increasing=dict(fillcolor=fill, line=dict(color=outline, width=1)),
        decreasing=dict(fillcolor=fill, line=dict(color=outline, width=1)),
        whiskerwidth=0, hoverinfo="skip", xaxis="x3", yaxis="y3", showlegend=False))

fig.add_trace(go.Scatter(x=mark_bar, y=mark_price, mode="markers", hoverinfo="skip", xaxis="x3", yaxis="y3",
                         marker=dict(symbol="line-ew", size=5, line=dict(color="#dcdcdc", width=1.6))))

# HalfTrend line
for n, (a, b) in enumerate(zip(halftrend_flips[:-1], halftrend_flips[1:])):
    xs = list(range(a, b + 1))
    fig.add_trace(go.Scatter(x=xs, y=[halftrend[i - first_bar] for i in xs], mode="lines", hoverinfo="skip",
                             line=dict(color=SALMON if n % 2 == 0 else LG, width=2.4),
                             xaxis="x3", yaxis="y3"))

fig.add_trace(go.Scatter(x=sell_signal_bar, y=sell_signal_price, mode="markers", hoverinfo="skip",
                         marker=dict(symbol="triangle-down", size=14, color=SALMON, line=dict(width=0)),
                         xaxis="x3", yaxis="y3"))
fig.add_trace(go.Scatter(x=buy_signal_bar, y=buy_signal_price, mode="markers", hoverinfo="skip",
                         marker=dict(symbol="triangle-up", size=14, color=LG, line=dict(width=0)),
                         xaxis="x3", yaxis="y3"))

# VWAP dots
fig.add_trace(go.Scatter(x=list(range(len(prior_dots))), y=prior_dots, mode="markers", hoverinfo="skip",
                         marker=dict(size=4.5, color="#f00000", line=dict(width=0)), xaxis="x3", yaxis="y3"))
vwap_bars = list(range(vwap_first_bar, vwap_first_bar + len(vwap_dots)))
fig.add_trace(go.Scatter(x=vwap_bars, y=vwap_dots, mode="markers", hoverinfo="skip",
                         marker=dict(size=4.5, line=dict(width=0),
                                     color=["#f00000" if b in vwap_red_bars else "#22b822" for b in vwap_bars]),
                         xaxis="x3", yaxis="y3"))

# session candles
for px, (hi, top, bot, lo), body, wick in [(1568.5, session_bar, "#4f8f4f", "#5fa05f"),
                                           (1684.3, prev_bar, "#8a4a4a", "#a05a5a")]:
    x = bar_at(px)
    fig.add_trace(go.Scatter(x=[x, x], y=[hi, lo], mode="lines", line=dict(color=wick, width=1),
                             hoverinfo="skip", xaxis="x3", yaxis="y3"))
    fig.add_trace(go.Scatter(x=[x, x], y=[top, bot], mode="lines", line=dict(color=body, width=5.2),
                             hoverinfo="skip", xaxis="x3", yaxis="y3"))

# price line
fig.add_trace(go.Scatter(x=[X_RANGE[0], bar_at(1685)], y=[last_price, last_price], mode="lines", hoverinfo="skip",
                         line=dict(color="#ffff00", width=2, dash="8px,3px"), xaxis="x3", yaxis="y3"))

# ---------------------------------------------------------------------------
# Frames, texts, arrows
# ---------------------------------------------------------------------------
shapes.append(dict(type="rect", xref="paper", yref="paper", x0=xp(1486), x1=xp(1566), y0=yp(48), y1=yp(663),
                   fillcolor="rgba(255,255,255,0.025)", line=dict(width=0), layer="below"))
shapes.append(dict(type="rect", xref="paper", yref="paper", x0=xp(1601.7), x1=xp(1682), y0=yp(0), y1=yp(917),
                   fillcolor="rgba(255,255,255,0.025)", line=dict(width=0), layer="below"))
pline(392.6, 0, 392.6, PLOT_B, "#3d4a63", 1.5)
pline(1486, 48.3, 1568.5, 48.3, "#5fa05f")
pline(1486, 663, 1568.5, 663, "#5fa05f")
pline(1601.7, 917.3, 1684.3, 917.3, "#a05a5a")
pline(1366.7, 71.7, 1446.7, 71.7, "#a86060")
pline(1366.7, 187.3, 1446.7, 187.3, "#a86060")
pline(1446.7, 71.7, 1446.7, 187.3, "#a86060")
pline(1487, 180.3, 1530, 180.3, "#6fb56f", 1, "dot")
pline(1487, 514, 1547, 514, "#c06a6a", 1, "dot")

for p, fill, txt in zip(flag_prices, flag_fills, flag_text):
    y = Y_195 + (5195 - p) * PX_PER_PT
    path = (f"M {xp(1684)} {yp(y)} L {xp(1692)} {yp(y - 8)} L {xp(1743)} {yp(y - 8)} "
            f"L {xp(1743)} {yp(y + 8)} L {xp(1692)} {yp(y + 8)} Z")
    shapes.append(dict(type="path", xref="paper", yref="paper", path=path, fillcolor=fill,
                       line=dict(color="#d8d8d8", width=1), layer="above"))
    note(1737.5, y, f"{p:.2f}".replace(".", ","), size=11, color=txt, anchor="right", bold=fill == "#000000")

note(5, 11.5, "Price line(ES JUN24 (5 Minute),100,100,100,false,false,true), BI TSI Plus, "
              "HalfTrend(ES JUN24 (5 Minute),2,10,100,2,true,true), FootPrint V2 (1 / 12 / 1 / 1), "
              "Order Flow VWAP(ES JUN24 (5 Minute),Three,Standard,1,2,3,&lt;Use data series settings&gt;)",
     size=10.55, color="#e0e0e0")
note(4.5, 957, "© 2024 NinjaTrader, LLC", size=11.5, color="#c8c8c8")
note(4, 1007, "ES JUN24", size=8.5, color="#a8a8a8")
note(1743, 1006.5, "NINJATRADER", size=15.5, color="#e8431f", anchor="right", bold=True)

for y, text in [(798, "On the previous and current session profile you are able to show a bar of the price movement during that session."),
                (817, "If you have the session configured to represent a trading day, then these are daily price bars."),
                (836, "This is specially useful to see how price reacts to yesterdays high or low and to get an idea of where we are trading in relation to yesterdays close."),
                (874, "On the custom profile there are bid and ask imbalances instead of the bar."),
                (912, "If you scroll back in the chart, you see the historical development of these values.")]:
    note(956, y, text, anchor="center")

note(1491, 62, "Bid Imbalance")
note(1490, 152, "Ask Imbalance")
note(1263, 184.5, "Profile Volume")
note(1263, 203.5, "Profile Delta")
note(1320, 252.5, "Value Area High (VaH)")
note(1265, 291.5, "Delta (Buy-Volume - Sell-Volume)")
note(1236.5, 377.5, "Point of Control (PoC)")
note(1482.5, 463, "Session Candle or Bar")
note(1323, 513, "Value Area Low (VaL)")

note(1566, 22.6, "Δ 10.510", size=10, color="#3f8f3f", anchor="right", family=MONO)
note(1566, 36.6, "Σ 389.210", size=10, color="#6d7f8f", anchor="right", family=MONO)
note(1450, 46.5, "Δ -2.352", size=10, color="#a84040", anchor="right", family=MONO)
note(1450, 59.5, "Σ 43.856", size=10, color="#6d7f8f", anchor="right", family=MONO)
note(1450, 201.5, "Σ 43.856", size=10, color="#6d7f8f", anchor="right", family=MONO)
note(1450, 213.5, "Δ -2.352", size=10, color="#a84040", anchor="right", family=MONO)
note(1566, 676.5, "Σ 389.210", size=10, color="#6d7f8f", anchor="right", family=MONO)
note(1566, 689.5, "Δ 10.510", size=10, color="#3f8f3f", anchor="right", family=MONO)
note(1682, 931.5, "Σ 3.811.702", size=10, color="#6d7f8f", anchor="right", family=MONO)
note(1682, 943.5, "Δ 91.418", size=10, color="#3f8f3f", anchor="right", family=MONO)

for tail, head in [((1478.3, 61.7), (1450.7, 74)), ((1605.7, 86), (1577.3, 97.3)), ((1483.3, 156.7), (1465, 169)),
                   ((1471.7, 192.7), (1451.7, 185)), ((1605.7, 236), (1577.3, 254)), ((1511.7, 291.7), (1550, 335)),
                   ((1460, 345), (1489.3, 346)), ((1395.6, 377), (1476, 380)), ((1629.3, 443.3), (1665, 426)),
                   ((1649.3, 464), (1686, 484)), ((1627.7, 490.7), (1578.3, 476.7)), ((1373.3, 190), (1390, 200)),
                   ((1356.7, 201), (1396.7, 216.7)), ((1433, 695), (1503.5, 673)), ((1459.3, 729), (1516.7, 697.3))]:
    arrow(tail, head)
arrow((1486.7, 252.7), (1497.3, 185), color="#c8c8c8", width=1.6)
arrow((1677, 21), (1658, 21), color="#e0e0e0", width=2.6)

# ---------------------------------------------------------------------------
# Axes and layout
# ---------------------------------------------------------------------------
hidden = dict(visible=False, showgrid=False, zeroline=False, fixedrange=True)
fig.update_layout(
    width=W, height=H, autosize=False, showlegend=False, barmode="overlay", separators=",.",
    paper_bgcolor="#000000", plot_bgcolor="#000000",
    margin=dict(l=0, r=W - PLOT_R, t=0, b=H - PLOT_B, pad=0),
    font=dict(family=FONT, color="#d8e4f0"), hovermode=False,
    shapes=shapes, annotations=notes,
    xaxis=dict(range=X_RANGE, tickvals=time_bars, ticktext=time_labels, ticks="outside", ticklen=7, tickcolor="#c8c8c8",
               showline=True, linecolor="#c8c8c8", linewidth=1, showgrid=False, zeroline=False, fixedrange=True,
               rangeslider=dict(visible=False), tickfont=dict(family=FONT, size=11, color="#d8e4f0")),
    yaxis=dict(range=Y_RANGE, side="right", tickvals=tick_prices, tickformat=".2f", ticks="outside", ticklen=5,
               tickcolor="#c8c8c8", showline=True, linecolor="#c8c8c8", linewidth=1, showgrid=False, zeroline=False,
               fixedrange=True, tickfont=dict(family=FONT, size=11, color="#d8e4f0")),
    xaxis2=dict(range=X_RANGE, overlaying="x", rangeslider=dict(visible=False), **hidden),
    yaxis2=dict(range=Y_RANGE, overlaying="y", **hidden),
    xaxis3=dict(range=X_RANGE, overlaying="x", rangeslider=dict(visible=False), **hidden),
    yaxis3=dict(range=Y_RANGE, overlaying="y", **hidden),
)

fig.write_html("out.html", config={"displayModeBar": False},
               post_script="document.body.style.margin='0';document.body.style.background='#000';")
